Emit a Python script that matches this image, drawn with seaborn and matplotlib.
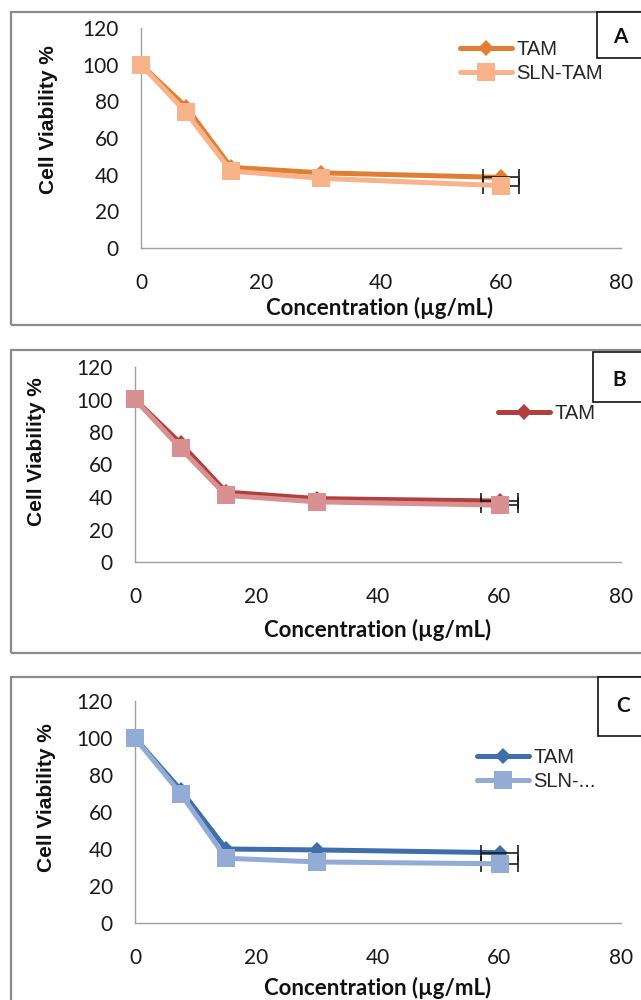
import matplotlib
matplotlib.use("Agg")
import matplotlib.pyplot as plt
import seaborn as sns
import pandas as pd
from matplotlib.patches import Rectangle

# ---------------- data ----------------
conc = [0, 7.5, 15, 30, 60]
x_ticks = [0, 20, 40, 60, 80]
y_ticks = [0, 20, 40, 60, 80, 100, 120]

a_tam = [100, 77, 44, 41, 38.5]
a_sln = [100, 74, 42, 38, 34]
b_tam = [100, 73, 43, 39, 37.5]
b_sln = [100, 70, 41, 37, 35]
c_tam = [100, 72, 40, 39.5, 38]
c_sln = [100, 70, 35, 33, 32]

# horizontal error (concentration) per point
a_tam_err = [0, 0, 0, 0, 3]
a_sln_err = [0, 0, 0, 0, 3]
b_tam_err = [0, 0, 0, 0, 3]
b_sln_err = [0, 0, 0, 0, 3]
c_tam_err = [0, 0, 0, 0, 3]
c_sln_err = [0, 0, 0, 0, 3]

panel_letters = ["A", "B", "C"]
legend_labels = [["TAM", "SLN-TAM"], ["TAM"], ["TAM", "SLN-..."]]
x_label = "Concentration (\u00b5g/mL)"
y_label = "Cell Viability %"

# colours
col_a = ("#E07F34", "#F9B38A")
col_b = ("#B0403F", "#D99091")
col_c = ("#3F6FAA", "#93ACD6")

# ---------------- layout (pixels) ----------------
W, H = 641, 1000
def fx(px):
    return px / W
def fy(py):
    return 1 - py / H

layout = [
    dict(ax=(141, 621, 28, 248), frame=(11, 12, 325), box=(597, 12, 58), letter=(620, 37),
         ylab=(49, 120), xlab=(380, 308), leg=(460, 40)),
    dict(ax=(135, 621, 367, 562), frame=(11, 350, 653), box=(593, 352, 402), letter=(619, 380),
         ylab=(37, 452), xlab=(378, 630), leg=(498, 404)),
    dict(ax=(135, 621, 701, 923), frame=(11, 677, 1010), box=(598, 677, 736), letter=(623, 706),
         ylab=(47, 798), xlab=(378, 988), leg=(477, 748)),
]

series = [
    (a_tam, a_sln, a_tam_err, a_sln_err, col_a),
    (b_tam, b_sln, b_tam_err, b_sln_err, col_b),
    (c_tam, c_sln, c_tam_err, c_sln_err, col_c),
]

sns.set_theme(style="white")
plt.rcParams["font.family"] = ["Lato", "DejaVu Sans"]

fig = plt.figure(figsize=(W / 100, H / 100), dpi=100)
fig.patch.set_facecolor("white")

for i, (lay, (tam, sln, tam_e, sln_e, cols)) in enumerate(zip(layout, series)):
    # panel frame
    fl, ft, fb = lay["frame"]
    fig.add_artist(Rectangle((fx(fl), fy(fb)), fx(W + 20 - fl), (fb - ft) / H,
                             transform=fig.transFigure, fill=False,
                             edgecolor="#8a8a8a", lw=1.6, zorder=0))
    # letter box
    bl, bt, bb = lay["box"]
    fig.add_artist(Rectangle((fx(bl), fy(bb)), fx(W + 20 - bl), (bb - bt) / H,
                             transform=fig.transFigure, fill=True, facecolor="white",
                             edgecolor="#111111", lw=1.2, zorder=1))
    lx, ly = lay["letter"]
    fig.text(fx(lx), fy(ly), panel_letters[i], ha="center", va="center",
             fontsize=15, fontweight="bold", color="#111111")

    l, r, t, b = lay["ax"]
    ax = fig.add_axes([fx(l), fy(b), (r - l) / W, (b - t) / H])
    ax.set_facecolor("none")

    df_tam = pd.DataFrame({"conc": conc, "v": tam})
    df_sln = pd.DataFrame({"conc": conc, "v": sln})

    sns.lineplot(data=df_tam, x="conc", y="v", color=cols[0], marker="D",
                 markersize=8, markeredgewidth=0, linewidth=3.6, ax=ax,
                 clip_on=False, zorder=2, errorbar=None, legend=False)
    # error bars (only non-zero)
    for vals, errs in ((tam, tam_e), (sln, sln_e)):
        idx = [k for k, e in enumerate(errs) if e > 0]
        ax.errorbar([conc[k] for k in idx], [vals[k] for k in idx],
                    xerr=[errs[k] for k in idx], fmt="none", ecolor="#1a1a1a",
                    elinewidth=1.2, capsize=5.5, capthick=1.2, zorder=2.5, clip_on=False)
    sns.lineplot(data=df_sln, x="conc", y="v", color=cols[1], marker="s",
                 markersize=13, markeredgewidth=0, linewidth=3.6, ax=ax,
                 clip_on=False, zorder=3, errorbar=None, legend=False)

    ax.set_xlim(0, 80)
    ax.set_ylim(0, 120)
    ax.set_xticks(x_ticks)
    ax.set_yticks(y_ticks)
    ax.tick_params(axis="both", length=0, labelsize=15, colors="#1a1a1a")
    ax.tick_params(axis="y", pad=16)
    ax.tick_params(axis="x", pad=18)
    sns.despine(ax=ax)
    for s in ("left", "bottom"):
        ax.spines[s].set_color("#a0a0a0")
        ax.spines[s].set_linewidth(1.0)

    ax.set_xlabel(x_label, fontsize=16, fontweight="bold", color="#111111", va="center")
    ax.set_ylabel(y_label, fontsize=15, fontweight="bold", color="#111111", va="center",
                  family=["Liberation Sans", "DejaVu Sans"])
    xlx, xly = lay["xlab"]
    ax.xaxis.set_label_coords(fx(xlx), fy(xly), transform=fig.transFigure)
    ylx, yly = lay["ylab"]
    ax.yaxis.set_label_coords(fx(ylx), fy(yly), transform=fig.transFigure)

    lines = ax.get_lines()
    handles = [lines[0], lines[-1]][:len(legend_labels[i])]
    lgx, lgy = lay["leg"]
    ax.legend(handles, legend_labels[i], loc="upper left",
              bbox_to_anchor=(fx(lgx), fy(lgy)), bbox_transform=fig.transFigure,
              frameon=False, borderpad=0, borderaxespad=0, handlelength=2.6,
              handletextpad=0.2, labelspacing=0.25,
              prop={"family": ["Liberation Sans", "DejaVu Sans"], "size": 14.5})

fig.savefig("out.png", dpi=100, facecolor="white")
